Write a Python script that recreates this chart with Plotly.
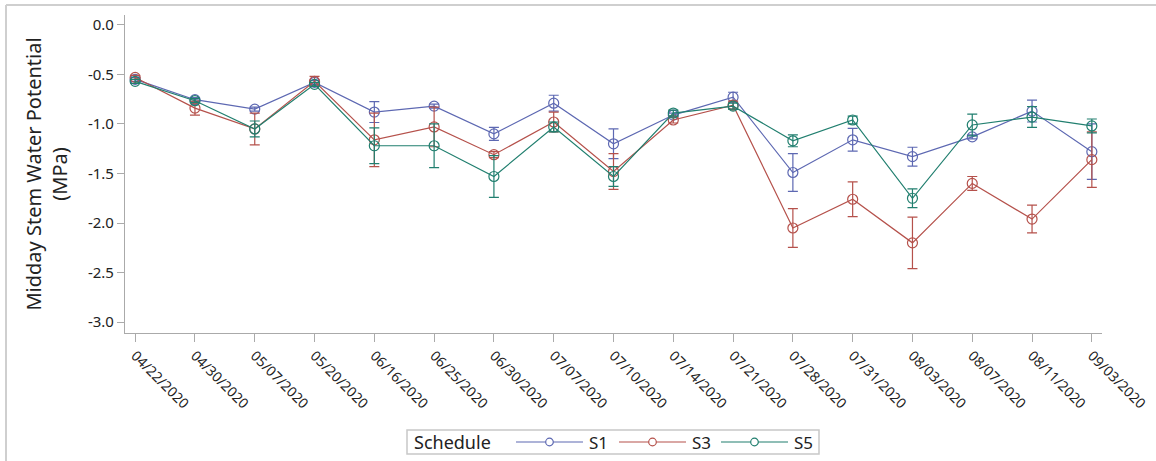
import plotly.graph_objects as go

# Sampling dates (categorical x axis)
dates = ["04/22/2020", "04/30/2020", "05/07/2020", "05/20/2020", "06/16/2020",
         "06/25/2020", "06/30/2020", "07/07/2020", "07/10/2020", "07/14/2020",
         "07/21/2020", "07/28/2020", "07/31/2020", "08/03/2020", "08/07/2020",
         "08/11/2020", "09/03/2020"]

# Mean midday stem water potential (MPa) per irrigation schedule
s1_mean = [-0.55, -0.755, -0.85, -0.58, -0.88, -0.82, -1.10, -0.79, -1.20, -0.91,
           -0.73, -1.49, -1.16, -1.33, -1.13, -0.87, -1.28]
s3_mean = [-0.53, -0.84, -1.05, -0.57, -1.16, -1.03, -1.31, -0.98, -1.48, -0.96,
           -0.81, -2.05, -1.76, -2.20, -1.60, -1.96, -1.36]
s5_mean = [-0.57, -0.765, -1.05, -0.60, -1.22, -1.22, -1.53, -1.03, -1.53, -0.89,
           -0.82, -1.17, -0.96, -1.75, -1.01, -0.93, -1.02]

# Standard errors
s1_err = [0.02, 0.02, 0.02, 0.02, 0.105, 0.02, 0.065, 0.08, 0.15, 0.02,
          0.05, 0.19, 0.115, 0.095, 0.02, 0.11, 0.28]
s3_err = [0.02, 0.07, 0.16, 0.05, 0.27, 0.20, 0.03, 0.10, 0.18, 0.03,
          0.04, 0.195, 0.175, 0.26, 0.07, 0.14, 0.28]
s5_err = [0.02, 0.02, 0.08, 0.02, 0.18, 0.22, 0.21, 0.05, 0.10, 0.03,
          0.03, 0.06, 0.04, 0.095, 0.11, 0.105, 0.07]

schedules = ["S1", "S3", "S5"]
y_ticks = [0.0, -0.5, -1.0, -1.5, -2.0, -2.5, -3.0]
y_tick_text = ["0.0", "-0.5", "-1.0", "-1.5", "-2.0", "-2.5", "-3.0"]

colors = {"S1": "#5d68b2", "S3": "#b5514b", "S5": "#217f6f"}
means = {"S1": s1_mean, "S3": s3_mean, "S5": s5_mean}
errors = {"S1": s1_err, "S3": s3_err, "S5": s5_err}

FONT = "Noto Sans, Open Sans, sans-serif"
TEXT = "#222222"

# Plot-area geometry in pixels
W, H = 1156, 461
L, R, T, B = 125, 54, 15, 128
PW, PH = W - L - R, H - T - B


def px(x):
    return (x - L) / PW


def py(y):
    return (H - B - y) / PH


fig = go.Figure()
for name in schedules:
    c = colors[name]
    fig.add_trace(go.Scatter(
        x=dates, y=means[name], name=name, mode="lines+markers",
        line=dict(color=c, width=1.2),
        marker=dict(symbol="circle-open", size=10, color=c, line=dict(width=1.2)),
        error_y=dict(type="data", array=errors[name], visible=True, color=c,
                     thickness=1.2, width=5),
        showlegend=False,
    ))

# Outer frame (top and left edges) and the boxed "Schedule" key
shapes = [
    dict(type="line", xref="paper", yref="paper", x0=px(6), x1=px(W), y0=py(5), y1=py(5),
         line=dict(color="#cfcfcf", width=2)),
    dict(type="line", xref="paper", yref="paper", x0=px(6), x1=px(6), y0=py(5), y1=py(H),
         line=dict(color="#cfcfcf", width=2)),
    dict(type="rect", xref="paper", yref="paper", x0=px(407), x1=px(819),
         y0=py(454), y1=py(430), line=dict(color="#c8c8c8", width=1.5)),
]
annotations = [
    dict(text="Schedule", xref="paper", yref="paper", x=px(412), y=py(442),
         xanchor="left", yanchor="middle", showarrow=False,
         font=dict(family=FONT, size=18, color=TEXT)),
]
key_x = {"S1": 516, "S3": 619, "S5": 721}
for name in schedules:
    x0 = key_x[name]
    c = colors[name]
    shapes.append(dict(type="line", xref="paper", yref="paper",
                       x0=px(x0), x1=px(x0 + 67), y0=py(442), y1=py(442),
                       line=dict(color=c, width=1.2)))
    cx = x0 + 33.5
    shapes.append(dict(type="circle", xref="paper", yref="paper",
                       x0=px(cx - 3.8), x1=px(cx + 3.8), y0=py(442 + 3.8), y1=py(442 - 3.8),
                       line=dict(color=c, width=1.2), fillcolor="white"))
    annotations.append(dict(text=name, xref="paper", yref="paper", x=px(x0 + 71), y=py(442),
                            xanchor="left", yanchor="middle", showarrow=False,
                            font=dict(family=FONT, size=17, color=TEXT)))

fig.update_layout(
    width=W, height=H,
    margin=dict(l=L, r=R, t=T, b=B, autoexpand=False),
    paper_bgcolor="white", plot_bgcolor="white",
    font=dict(family=FONT, color=TEXT),
    showlegend=False,
    xaxis=dict(
        type="category", range=[-0.17, 16.17], automargin=False,
        showline=True, linecolor="#aaaaaa", linewidth=1.2,
        ticks="outside", ticklen=8, tickcolor="#aaaaaa",
        tickangle=45, showgrid=False, zeroline=False,
        tickfont=dict(family=FONT, size=14, color=TEXT),
    ),
    yaxis=dict(
        range=[-3.11, 0.10], automargin=False,
        tickvals=y_ticks, ticktext=y_tick_text,
        showline=True, linecolor="#aaaaaa", linewidth=1.2,
        ticks="outside", ticklen=7, tickcolor="#aaaaaa",
        showgrid=False, zeroline=False,
        tickfont=dict(family=FONT, size=15, color=TEXT),
        title=dict(text="Midday Stem Water Potential<br>(MPa)",
                   font=dict(family=FONT, size=20, color=TEXT), standoff=14),
    ),
    shapes=shapes,
    annotations=annotations,
)

fig.write_html("out.html")
